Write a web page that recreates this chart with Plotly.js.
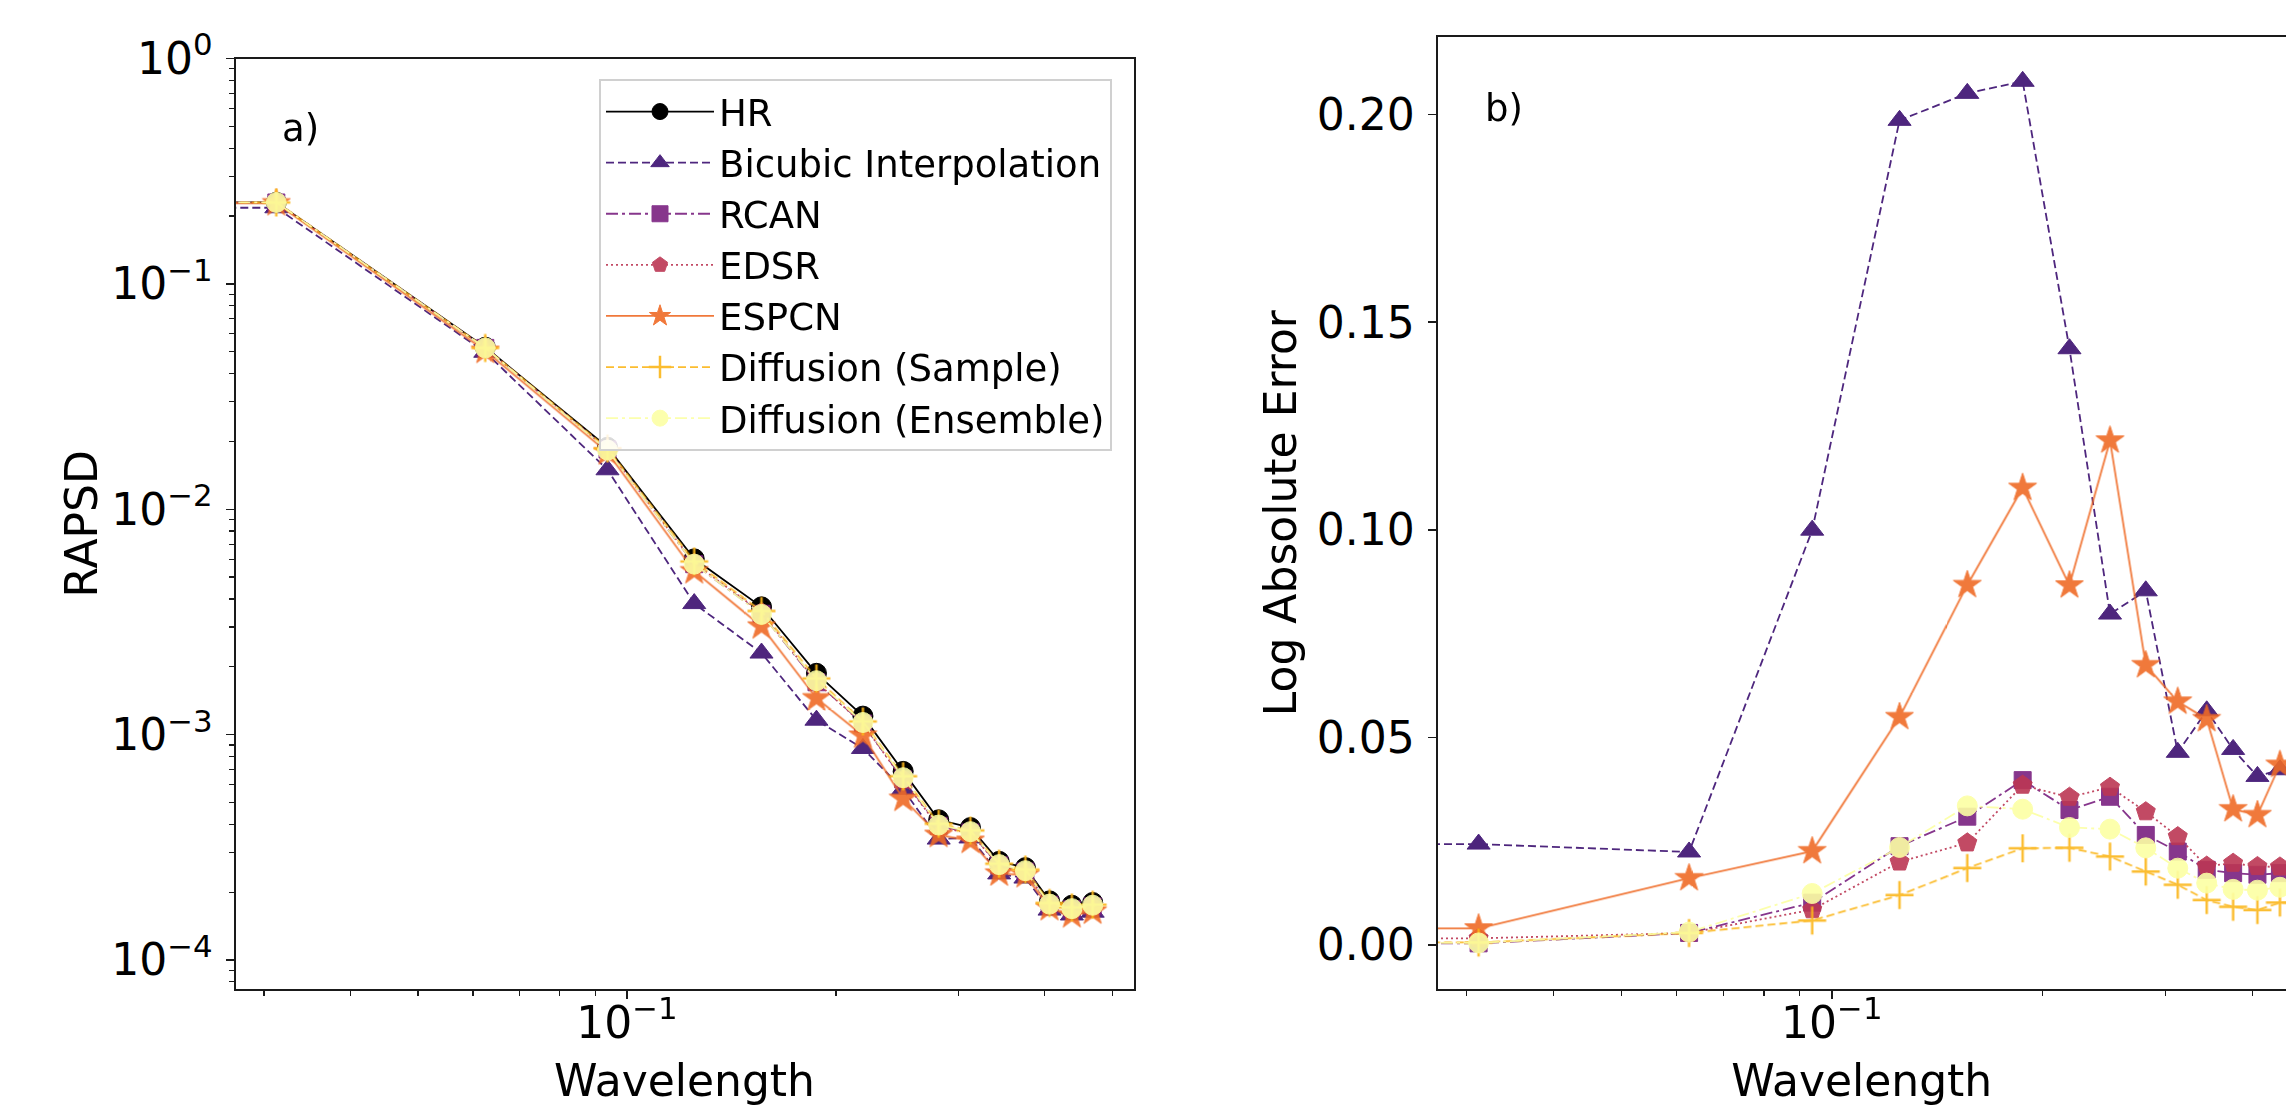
<!DOCTYPE html>
<html>
<head>
<meta charset="utf-8">
<script src="https://cdn.plot.ly/plotly-3.0.1.min.js"></script>
<style>html,body{margin:0;padding:0;background:#fff;overflow:hidden}</style>
</head>
<body>
<div id="chart" style="width:2286px;height:1106px"></div>
<script>
// ---------------- data ----------------
const wavelength = [0, 0.03125, 0.0625, 0.09375, 0.125, 0.15625, 0.1875, 0.21875, 0.25,
                    0.28125, 0.3125, 0.34375, 0.375, 0.40625, 0.4375, 0.46875];

const rapsdHR       = [0.2301, 0.2301, 0.05236, 0.01884, 0.006026, 0.00369, 0.001871, 0.001208, 0.000687, 0.000419, 0.000387, 0.000274, 0.000257, 0.000183, 0.000175, 0.000180];
const rapsdBicubic  = [0.2176, 0.2176, 0.04973, 0.01497, 0.003814, 0.002301, 0.001159, 0.000868, 0.000572, 0.000344, 0.000348, 0.000241, 0.000231, 0.0001665, 0.0001584, 0.000163];
const rapsdRCAN     = [0.2297, 0.2297, 0.05200, 0.01840, 0.005704, 0.003437, 0.001707, 0.001121, 0.000633, 0.000394, 0.000368, 0.000263, 0.000247, 0.000176, 0.000168, 0.000173];
const rapsdEDSR     = [0.2291, 0.2291, 0.05200, 0.01847, 0.005754, 0.003486, 0.001712, 0.001113, 0.000630, 0.000389, 0.000365, 0.000262, 0.000246, 0.000175, 0.000167, 0.000172];
const rapsdESPCN    = [0.2280, 0.2280, 0.05046, 0.01788, 0.005310, 0.003021, 0.001451, 0.000990, 0.000519, 0.000359, 0.000338, 0.000242, 0.000238, 0.000170, 0.000158, 0.000164];
const rapsdSample   = [0.2299, 0.2299, 0.05200, 0.01858, 0.005861, 0.003536, 0.001773, 0.001144, 0.000654, 0.000402, 0.000375, 0.000267, 0.000252, 0.000179, 0.000171, 0.000176];
const rapsdEnsemble = [0.2298, 0.2298, 0.05198, 0.01830, 0.005708, 0.003416, 0.001735, 0.001132, 0.000644, 0.000397, 0.000371, 0.000265, 0.000249, 0.000177, 0.000169, 0.000175];

const errBicubic  = [0.0243, 0.0243, 0.0224, 0.0999, 0.1986, 0.2051, 0.2080, 0.1436, 0.0797, 0.0853, 0.0464, 0.0564, 0.0471, 0.0406, 0.0422, 0.0420];
const errRCAN     = [0.0004, 0.0004, 0.0029, 0.0102, 0.0238, 0.0309, 0.0397, 0.0325, 0.0357, 0.0265, 0.0225, 0.0181, 0.0173, 0.0169, 0.0173, 0.0170];
const errEDSR     = [0.0016, 0.0016, 0.0029, 0.0085, 0.0200, 0.0246, 0.0385, 0.0356, 0.0380, 0.0321, 0.0261, 0.0190, 0.0197, 0.0189, 0.0188, 0.0190];
const errESPCN    = [0.0040, 0.0040, 0.0161, 0.0226, 0.0549, 0.0867, 0.1101, 0.0866, 0.1215, 0.0674, 0.0586, 0.0544, 0.0327, 0.0313, 0.0434, 0.0400];
const errSample   = [0.0006, 0.0006, 0.0029, 0.0059, 0.0120, 0.0185, 0.0233, 0.0234, 0.0213, 0.0177, 0.0145, 0.0108, 0.0092, 0.0084, 0.0102, 0.0100];
const errEnsemble = [0.0005, 0.0005, 0.0031, 0.0124, 0.0235, 0.0335, 0.0327, 0.0283, 0.0279, 0.0234, 0.0185, 0.0149, 0.0134, 0.0132, 0.0139, 0.0130];

const seriesNames = ['HR', 'Bicubic Interpolation', 'RCAN', 'EDSR', 'ESPCN', 'Diffusion (Sample)', 'Diffusion (Ensemble)'];
const logTickVals = [1, 0.1, 0.01, 0.001, 0.0001];
const logTickText = ['10<sup>0</sup>', '10<sup>−1</sup>', '10<sup>−2</sup>', '10<sup>−3</sup>', '10<sup>−4</sup>'];
const xTickVals = [0.1];
const xTickText = ['10<sup>−1</sup>'];
const errTickVals = [0, 0.05, 0.10, 0.15, 0.20];
const errTickText = ['0.00', '0.05', '0.10', '0.15', '0.20'];

// ---------------- styles ----------------
const FONT = 'DejaVu Sans, Liberation Sans, sans-serif';
const colors  = ['#000000', '#3b0f70', '#7a2180', '#bc3754', '#ef6a25', '#fbb61a', '#fcffa4'];
const symbols = ['circle', 'triangle-up', 'square', 'pentagon', 'star', 'cross-thin', 'circle'];
const sizes   = [20, 20, 17, 20, 21, 20, 20];
const dashes  = ['solid', '8px,4px', '12px,4px,3px,4px', '2px,3px', 'solid', '8px,4px', '12px,4px,3px,4px'];

const W = 2286, H = 1106;
// axes boxes in pixels (matplotlib layout)
const L = {x0: 235.5, x1: 1133.5, top: 58.5, bottom: 989};
const R = {x0: 1437.5, x1: 2342, top: 37.3, bottom: 989};   // right axes runs past the canvas edge

// matplotlib clips non-positive x to a tiny value on a log axis
const CLIP = 1e-6;
const xs = wavelength.map(v => v > 0 ? v : CLIP);

// matplotlib autoscale (5% margins in log space) for x
const pos = wavelength.filter(v => v > 0);
const lo = Math.log10(Math.min(...pos)), hi = Math.log10(Math.max(...pos));
const pad = 0.05 * (hi - lo);
const xRangeFull = [lo - pad, hi + pad];
const visFrac = (W - R.x0) / (R.x1 - R.x0);
const xRangeRight = [xRangeFull[0], xRangeFull[0] + (xRangeFull[1] - xRangeFull[0]) * visFrac];

const leftData  = [rapsdHR, rapsdBicubic, rapsdRCAN, rapsdEDSR, rapsdESPCN, rapsdSample, rapsdEnsemble];
const rightData = [null, errBicubic, errRCAN, errEDSR, errESPCN, errSample, errEnsemble];

function trace(i, y, xa, ya, showLegend) {
  const cross = symbols[i] === 'cross-thin';
  return {
    type: 'scatter', mode: 'lines+markers', x: xs, y: y, xaxis: xa, yaxis: ya,
    name: seriesNames[i], legendgroup: seriesNames[i], showlegend: showLegend,
    line: {color: colors[i], width: 1.8, dash: dashes[i]},
    marker: {symbol: symbols[i], size: sizes[i], color: colors[i],
             line: {color: colors[i], width: cross ? 2.5 : 1}},
    opacity: i === 0 ? 1 : 0.9,
    hoverinfo: 'skip'
  };
}

const traces = [];
for (let i = 0; i < leftData.length; i++) traces.push(trace(i, leftData[i], 'x', 'y', true));
for (let i = 1; i < rightData.length; i++) traces.push(trace(i, rightData[i], 'x2', 'y2', false));

function minorLog(e0, e1) {
  const v = [];
  for (let e = e0; e <= e1; e++) for (let d = 2; d <= 9; d++) v.push(d * Math.pow(10, e));
  return v;
}

const axisCommon = {
  showgrid: false, zeroline: false, showline: true, linecolor: '#1a1a1a', linewidth: 2,
  ticks: 'outside', ticklen: 8, tickwidth: 1.5, tickcolor: '#1a1a1a',
  tickfont: {family: FONT, size: 44, color: '#000'}, automargin: false
};
const minorX = {tickmode: 'array', tickvals: minorLog(-2, -1), ticks: 'outside', ticklen: 4.5, tickwidth: 1.2, tickcolor: '#1a1a1a', showgrid: false};

const layout = {
  width: W, height: H,
  margin: {l: 0, r: 0, t: 0, b: 0},
  paper_bgcolor: '#ffffff', plot_bgcolor: '#ffffff',
  font: {family: FONT, color: '#000'},
  showlegend: true,
  xaxis: Object.assign({}, axisCommon, {
    type: 'log', range: xRangeFull, domain: [L.x0 / W, L.x1 / W], anchor: 'y', mirror: true,
    tickmode: 'array', tickvals: xTickVals, ticktext: xTickText, ticklabelstandoff: -14,
    minor: minorX,
    title: {text: 'Wavelength', font: {family: FONT, size: 44, color: '#000'}, standoff: 26}
  }),
  yaxis: Object.assign({}, axisCommon, {
    type: 'log', range: [-4.1287, 0], domain: [1 - L.bottom / H, 1 - L.top / H], anchor: 'x', mirror: true,
    tickmode: 'array', tickvals: logTickVals, ticktext: logTickText, ticklabelstandoff: 4,
    minor: {tickmode: 'array', tickvals: minorLog(-5, -1), ticks: 'outside', ticklen: 4.5, tickwidth: 1.2, tickcolor: '#1a1a1a', showgrid: false},
    title: {text: 'RAPSD', font: {family: FONT, size: 44, color: '#000'}, standoff: 0}
  }),
  xaxis2: Object.assign({}, axisCommon, {
    type: 'log', range: xRangeRight, domain: [R.x0 / W, 1], anchor: 'y2', mirror: true,
    tickmode: 'array', tickvals: xTickVals, ticktext: xTickText, ticklabelstandoff: -14,
    minor: minorX,
    title: {text: 'Wavelength', font: {family: FONT, size: 44, color: '#000'}, standoff: 26}
  }),
  yaxis2: Object.assign({}, axisCommon, {
    type: 'linear', range: [-0.0106, 0.2186], domain: [1 - R.bottom / H, 1 - R.top / H], anchor: 'x2', mirror: false,
    tickmode: 'array', tickvals: errTickVals, ticktext: errTickText, ticklabelstandoff: 4,
    title: {text: 'Log Absolute Error', font: {family: FONT, size: 44, color: '#000'}, standoff: 6}
  }),
  legend: {
    x: 599 / W, y: 1 - 79 / H, xanchor: 'left', yanchor: 'top',
    bgcolor: 'rgba(255,255,255,0.85)', bordercolor: '#d0d0d0', borderwidth: 2,
    font: {family: FONT, size: 37, color: '#000'}, itemwidth: 108, tracegroupgap: 0
  },
  annotations: [
    {text: 'a)', xref: 'x domain', yref: 'y domain', x: 0.05, y: 0.95, xanchor: 'left', yanchor: 'top',
     showarrow: false, font: {family: FONT, size: 37, color: '#000'}},
    {text: 'b)', xref: 'x2 domain', yref: 'y2 domain', x: 0.05 / visFrac, y: 0.95, xanchor: 'left', yanchor: 'top',
     showarrow: false, font: {family: FONT, size: 37, color: '#000'}}
  ]
};

Plotly.newPlot('chart', traces, layout, {staticPlot: true, displayModeBar: false});
</script>
</body>
</html>
